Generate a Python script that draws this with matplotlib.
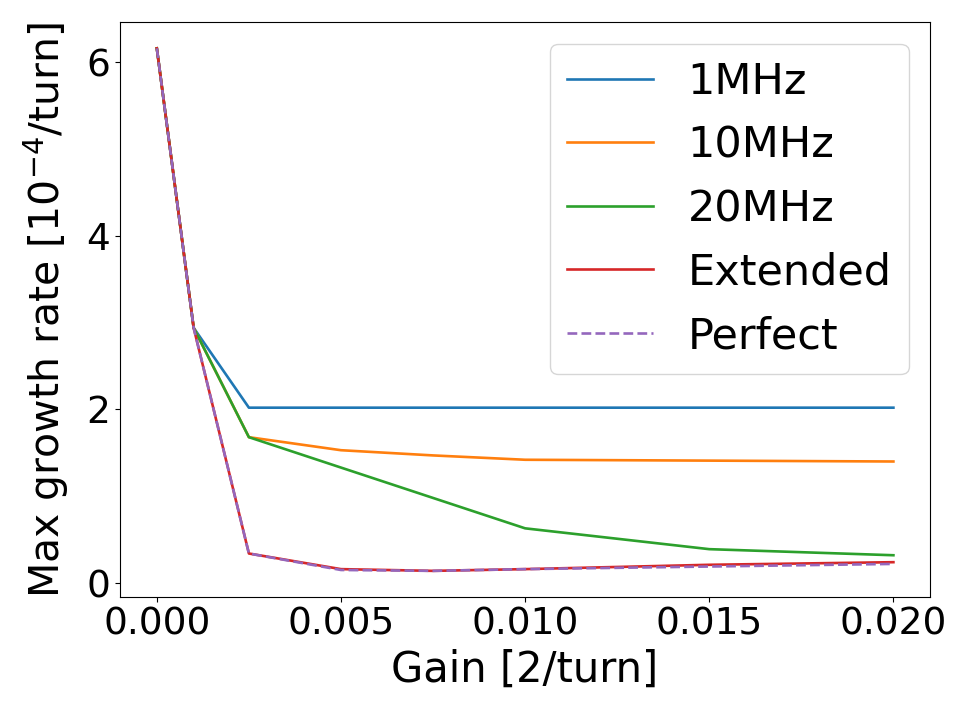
import matplotlib
matplotlib.use("Agg")
import matplotlib.pyplot as plt

gain = [0.0, 0.001, 0.0025, 0.005, 0.0075, 0.01, 0.015, 0.02]
rate_1mhz = [6.16, 2.94, 2.02, 2.02, 2.02, 2.02, 2.02, 2.02]
rate_10mhz = [6.16, 2.94, 1.68, 1.53, 1.47, 1.42, 1.41, 1.40]
rate_20mhz = [6.16, 2.94, 1.68, 1.33, 0.98, 0.63, 0.39, 0.32]
rate_ext = [6.16, 2.94, 0.34, 0.16, 0.14, 0.16, 0.21, 0.24]
rate_perf = [6.16, 2.94, 0.34, 0.15, 0.14, 0.16, 0.19, 0.22]

plt.rcParams['font.family'] = ['DejaVu Sans']
plt.rcParams['font.size'] = 27

fig = plt.figure(figsize=(9.6, 7.07), dpi=100)
ax = fig.add_axes([0.125, 0.1556, 0.844, 0.813])

lw = 1.9
ax.plot(gain, rate_1mhz, color='#1f77b4', lw=lw, label='1MHz')
ax.plot(gain, rate_10mhz, color='#ff7f0e', lw=lw, label='10MHz')
ax.plot(gain, rate_20mhz, color='#2ca02c', lw=lw, label='20MHz')
ax.plot(gain, rate_ext, color='#d62728', lw=lw, label='Extended')
ax.plot(gain, rate_perf, color='#9467bd', lw=lw, linestyle='--', label='Perfect')

ax.set_xticks([0.0, 0.005, 0.01, 0.015, 0.02])
ax.set_xticklabels(['0.000', '0.005', '0.010', '0.015', '0.020'])
ax.set_yticks([0, 2, 4, 6])
ax.tick_params(labelsize=27)
ax.set_xlabel('Gain [2/turn]', fontsize=30, labelpad=4)
ax.set_ylabel(r'Max growth rate [$10^{-4}$/turn]', fontsize=29.5, labelpad=11)
ax.legend(loc='upper right', fontsize=31)

fig.savefig('out.png', dpi=100)
